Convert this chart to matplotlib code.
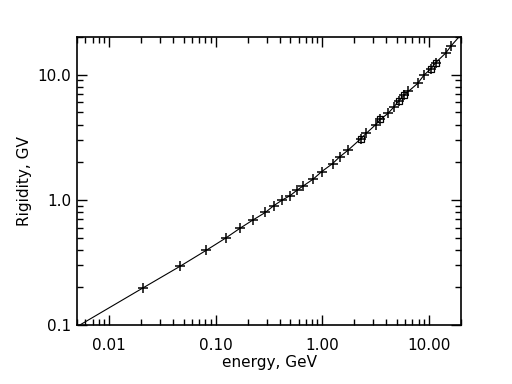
import matplotlib
matplotlib.use('Agg')
import matplotlib.pyplot as plt
from matplotlib.ticker import FixedLocator, LogLocator, NullFormatter
import numpy as np

# energy (GeV) and rigidity (GV)
energia = [0.0206, 0.0464, 0.081, 0.124, 0.170, 0.225, 0.292, 0.350, 0.423,
           0.499, 0.575, 0.652, 0.826, 0.985, 1.25, 1.45, 1.74, 2.29, 2.59,
           3.16, 3.50, 4.13, 4.67, 5.20, 5.83, 6.41, 7.85, 8.99, 10.47,
           11.58, 14.38, 16.1]
rigidez = [0.197, 0.295, 0.394, 0.495, 0.595, 0.693, 0.793, 0.898, 1.00,
           1.08, 1.19, 1.28, 1.47, 1.68, 1.95, 2.20, 2.49, 3.07, 3.41,
           3.98, 4.39, 4.90, 5.50, 6.15, 6.83, 7.35, 8.52, 9.93, 11.17,
           12.48, 14.89, 16.94]
# points drawn with small squares
energia_q = [2.29, 3.50, 5.20, 5.83, 10.47, 11.58]
rigidez_q = [3.07, 4.39, 6.15, 6.83, 11.17, 12.48]
# line ends at the axis corners
linha_x = [0.005] + energia + [20.0]
linha_y = [0.097] + rigidez + [20.9]

xticks = [0.01, 0.1, 1.0, 10.0]
xlabels = ['0.01', '0.10', '1.00', '10.00']
yticks = [0.1, 1.0, 10.0]
ylabels = ['0.1', '1.0', '10.0']

fig = plt.figure(figsize=(5.12, 3.84), dpi=100)
ax = fig.add_axes([0.1504, 0.1536, 0.75, 0.75])

ax.plot(linha_x, linha_y, color='k', lw=0.8)
ax.plot(energia, rigidez, ls='', marker='+', color='k', ms=6.5, mew=1.1)
ax.plot(energia_q, rigidez_q, ls='', marker='s', mfc='none', mec='k', ms=4, mew=0.9)

ax.set_xscale('log')
ax.set_yscale('log')
ax.set_xlim(0.005, 20)
ax.set_ylim(0.1, 20)

ax.xaxis.set_major_locator(FixedLocator(xticks))
ax.set_xticklabels(xlabels)
ax.yaxis.set_major_locator(FixedLocator(yticks))
ax.set_yticklabels(ylabels)
ax.xaxis.set_minor_locator(LogLocator(base=10, subs=np.arange(2, 10)))
ax.yaxis.set_minor_locator(LogLocator(base=10, subs=np.arange(2, 10)))
ax.xaxis.set_minor_formatter(NullFormatter())
ax.yaxis.set_minor_formatter(NullFormatter())

ax.tick_params(which='both', direction='in', top=True, right=True, width=1, labelsize=11)
ax.tick_params(which='major', length=7)
ax.tick_params(axis='x', which='major', pad=9)
ax.tick_params(axis='y', which='major', pad=4)
ax.tick_params(which='minor', length=4)
for s in ax.spines.values():
    s.set_linewidth(1.2)

ax.set_xlabel('energy, GeV', fontsize=11, labelpad=2)
ax.set_ylabel('Rigidity, GV', fontsize=11, labelpad=4)

fig.savefig('out.png', dpi=100)
